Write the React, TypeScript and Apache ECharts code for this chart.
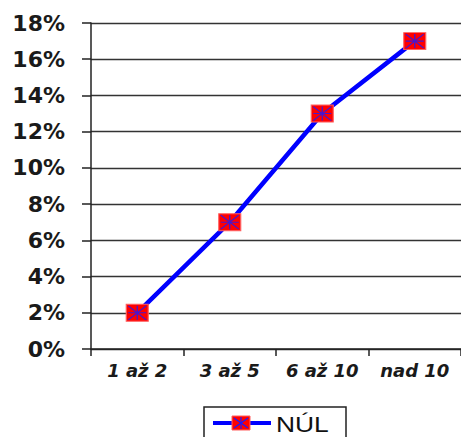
import React, { useEffect, useRef } from "react";
import * as echarts from "echarts";

const categories = ["1 až 2", "3 až 5", "6 až 10", "nad 10"];
const values = [2, 7, 13, 17];
const seriesName = "NÚL";

const ASTERISK = "path://M0,0L10,10M10,0L0,10M5,0L5,10M0,5L10,5";

export default function App() {
  const ref = useRef<HTMLDivElement>(null);
  useEffect(() => {
    document.body.style.margin = "0";
    const chart = echarts.init(ref.current!, null, { renderer: "svg" });
    chart.setOption({
      animation: false,
      backgroundColor: "#ffffff",
      grid: { left: 91, top: 23, width: 372, height: 326, containLabel: false },
      xAxis: {
        type: "category",
        data: categories,
        boundaryGap: true,
        axisLine: { lineStyle: { color: "#222", width: 1.5 } },
        axisTick: { show: true, interval: 0, length: 7, alignWithLabel: false, lineStyle: { color: "#222", width: 1.5 } },
        axisLabel: {
          interval: 0,
          hideOverlap: false,
          margin: 12,
          color: "#1a1a1a",
          fontFamily: "DejaVu Sans, sans-serif",
          fontSize: 18,
          fontWeight: "bold",
          fontStyle: "italic",
        },
        splitLine: { show: false },
      },
      yAxis: {
        type: "value",
        min: 0,
        max: 18,
        interval: 2,
        axisLine: { show: true, lineStyle: { color: "#222", width: 1.5 } },
        axisTick: { show: true, length: 9, lineStyle: { color: "#222", width: 1.5 } },
        axisLabel: {
          formatter: "{value}%",
          margin: 26,
          color: "#1a1a1a",
          fontFamily: "DejaVu Sans, sans-serif",
          fontSize: 22,
          fontWeight: "bold",
        },
        splitLine: { show: true, lineStyle: { color: "#333", width: 1.3 } },
      },
      series: [
        {
          name: seriesName,
          type: "line",
          data: values,
          lineStyle: { color: "#0000ff", width: 4.5 },
          symbol: "rect",
          symbolSize: [22, 17],
          itemStyle: { color: "#ff0000", borderColor: "#ff6060", borderWidth: 1 },
          z: 2,
        },
        {
          name: seriesName + "-asterisk",
          type: "scatter",
          data: values,
          symbol: ASTERISK,
          symbolSize: [18, 14],
          itemStyle: { color: "none", borderColor: "#1a1aff", borderWidth: 1.2 },
          z: 3,
          silent: true,
        },
      ],
      graphic: [
        {
          type: "rect",
          shape: { x: 204, y: 407, width: 142, height: 40 },
          style: { fill: "#fff", stroke: "#222", lineWidth: 1.5 },
        },
        {
          type: "line",
          shape: { x1: 213, y1: 423, x2: 271, y2: 423 },
          style: { stroke: "#0000ff", lineWidth: 4 },
        },
        {
          type: "rect",
          shape: { x: 232, y: 416, width: 18, height: 14 },
          style: { fill: "#ff0000", stroke: "#ff6060", lineWidth: 1 },
        },
        {
          type: "polyline",
          shape: { points: [[234, 418], [248, 428]] },
          style: { stroke: "#1a1aff", lineWidth: 1.2, fill: null },
        },
        {
          type: "polyline",
          shape: { points: [[248, 418], [234, 428]] },
          style: { stroke: "#1a1aff", lineWidth: 1.2, fill: null },
        },
        {
          type: "polyline",
          shape: { points: [[241, 417], [241, 429]] },
          style: { stroke: "#1a1aff", lineWidth: 1.2, fill: null },
        },
        {
          type: "text",
          x: 276,
          y: 424,
          scaleX: 1.2,
          style: {
            text: seriesName,
            fill: "#111",
            font: "22px 'Liberation Sans', Arial, sans-serif",
            verticalAlign: "middle",
            align: "left",
          },
        },
      ],
    });
    return () => chart.dispose();
  }, []);
  return <div ref={ref} style={{ position: "fixed", left: 0, top: 0, width: 461, height: 437 }} />;
}
